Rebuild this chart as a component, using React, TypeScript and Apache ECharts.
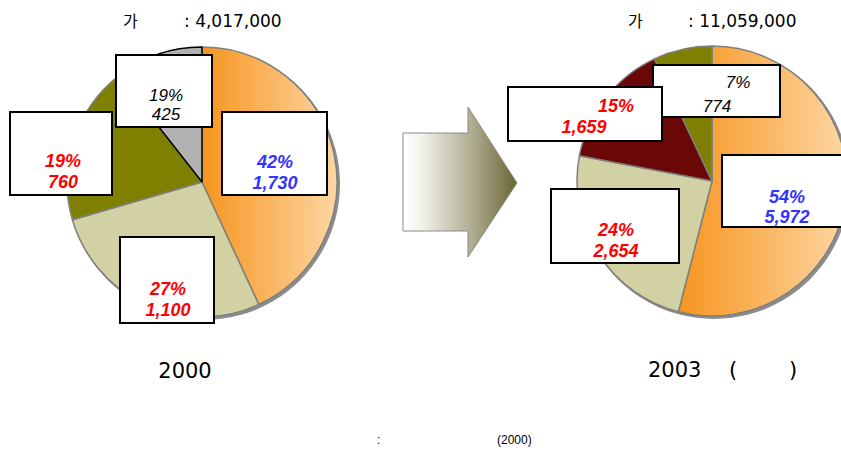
import React, { useEffect, useRef } from 'react';
import * as echarts from 'echarts';

const segments2000 = ['s1', 's2', 's3', 's4'];
const values2000 = [1730, 1100, 760, 425];
const pct2000 = ['42%', '27%', '19%', '19%'];
const segments2003 = ['s1', 's2', 's5', 's3'];
const values2003 = [5972, 2654, 1659, 774];
const pct2003 = ['54%', '24%', '15%', '7%'];
const totals = ['4,017,000', '11,059,000'];
const years = ['2000', '2003'];
const sourceYear = '(2000)';

const FONT = "Arial, 'Liberation Sans', 'Noto Sans CJK KR', sans-serif";
const WIDE = "'DejaVu Sans', 'Noto Sans CJK KR', sans-serif";

const orangeGrad = new echarts.graphic.LinearGradient(0, 0, 1, 0, [
  { offset: 0, color: '#F7951F' },
  { offset: 1, color: '#FCD6A2' },
]);

const colors2000 = [orangeGrad, '#D1D1A3', '#808000', '#B2B2B2'];
const colors2003 = [orangeGrad, '#D1D1A3', '#6A0808', '#808000'];

const fmt = (v: number) => v.toLocaleString('en-US');

export default function App() {
  const ref = useRef<HTMLDivElement>(null);
  useEffect(() => {
    document.body.style.margin = '0';
    const chart = echarts.init(ref.current!, null, { renderer: 'svg' });

    const pieSeries = (center: number[], names: string[], values: number[], colors: any[], blackIdx: number) => ({
      type: 'pie',
      center,
      radius: 135,
      startAngle: 90,
      clockwise: true,
      z: 2,
      silent: true,
      label: { show: false },
      labelLine: { show: false },
      emphasis: { disabled: true },
      data: values.map((v, i) => ({
        name: names[i],
        value: v,
        itemStyle: {
          color: colors[i],
          borderColor: i === blackIdx ? '#000000' : '#7F7F7F',
          borderWidth: 1.5,
        },
      })),
    });

    const box = (x1: number, y1: number, x2: number, y2: number) => ({
      type: 'rect',
      z: 10,
      shape: { x: x1, y: y1, width: x2 - x1, height: y2 - y1 },
      style: { fill: '#FFFFFF', stroke: '#000000', lineWidth: 2 },
    });
    const txt = (x: number, y: number, text: string, color: string, bold: boolean) => ({
      type: 'text',
      z: 11,
      x,
      y,
      style: {
        text,
        fill: color,
        font: `italic ${bold ? 'bold 18px' : '17px'} ${FONT}`,
        textAlign: 'center',
        textVerticalAlign: 'middle',
      },
    });
    const plain = (x: number, y: number, text: string, size: number, family = WIDE, align = 'left') => ({
      type: 'text',
      z: 11,
      x,
      y,
      style: {
        text,
        fill: '#000000',
        font: `${size}px ${family}`,
        textAlign: align,
        textVerticalAlign: 'middle',
      },
    });

    const RED = '#FF0000';
    const BLUE = '#3333FF';
    const BLACK = '#000000';

    chart.setOption({
      animation: false,
      series: [
        pieSeries([202, 182], segments2000, values2000, colors2000, 3),
        pieSeries([712, 181], segments2003, values2003, colors2003, -1),
      ],
      graphic: [
        { type: 'circle', z: 0, shape: { cx: 204, cy: 184, r: 136 }, style: { fill: '#8C8C8C' } },
        { type: 'circle', z: 0, shape: { cx: 714, cy: 183, r: 136 }, style: { fill: '#8C8C8C' } },
        // arrow
        {
          type: 'polygon',
          z: 5,
          shape: {
            points: [[403, 133], [468, 133], [468, 107], [517, 183], [468, 257], [468, 231], [403, 231]],
          },
          style: {
            fill: new echarts.graphic.LinearGradient(0, 0, 1, 0, [
              { offset: 0, color: '#FFFFFF' },
              { offset: 0.15, color: '#F4F4EF' },
              { offset: 0.6, color: '#B0AD92' },
              { offset: 1, color: '#6A6533' },
            ]),
            stroke: '#8A8A8A',
            lineWidth: 1,
          },
        },
        // titles
        plain(123, 21, '가', 16),
        plain(184, 21, ': ' + totals[0], 17),
        plain(628, 21, '가', 16),
        plain(688, 21, ': ' + totals[1], 17),
        plain(185, 371, years[0], 21, WIDE, 'center'),
        plain(648, 370, years[1], 21),
        plain(729, 370, '(', 21),
        plain(789, 370, ')', 21),
        plain(377, 440, ':', 12, FONT),
        plain(497, 440, sourceYear, 12, FONT),
        // 2000 labels
        box(116, 55, 212, 127),
        txt(166, 95, pct2000[3], BLACK, false),
        txt(166, 114, fmt(values2000[3]), BLACK, false),
        box(222, 112, 327, 195),
        txt(275, 162, pct2000[0], BLUE, true),
        txt(275, 183, fmt(values2000[0]), BLUE, true),
        box(10, 112, 112, 195),
        txt(63, 161, pct2000[2], RED, true),
        txt(63, 182, fmt(values2000[2]), RED, true),
        box(120, 237, 214, 323),
        txt(168, 289, pct2000[1], RED, true),
        txt(168, 310, fmt(values2000[1]), RED, true),
        // 2003 labels
        box(653, 65, 780, 117),
        txt(738, 82, pct2003[3], BLACK, false),
        txt(717, 106, fmt(values2003[3]), BLACK, false),
        box(508, 87, 662, 141),
        txt(616, 106, pct2003[2], RED, true),
        txt(584, 127, fmt(values2003[2]), RED, true),
        box(722, 155, 846, 227),
        txt(787, 197, pct2003[0], BLUE, true),
        txt(787, 217, fmt(values2003[0]), BLUE, true),
        box(551, 189, 679, 263),
        txt(616, 230, pct2003[1], RED, true),
        txt(616, 251, fmt(values2003[1]), RED, true),
      ],
    });
    return () => chart.dispose();
  }, []);
  return <div ref={ref} style={{ width: 841, height: 454 }} />;
}
